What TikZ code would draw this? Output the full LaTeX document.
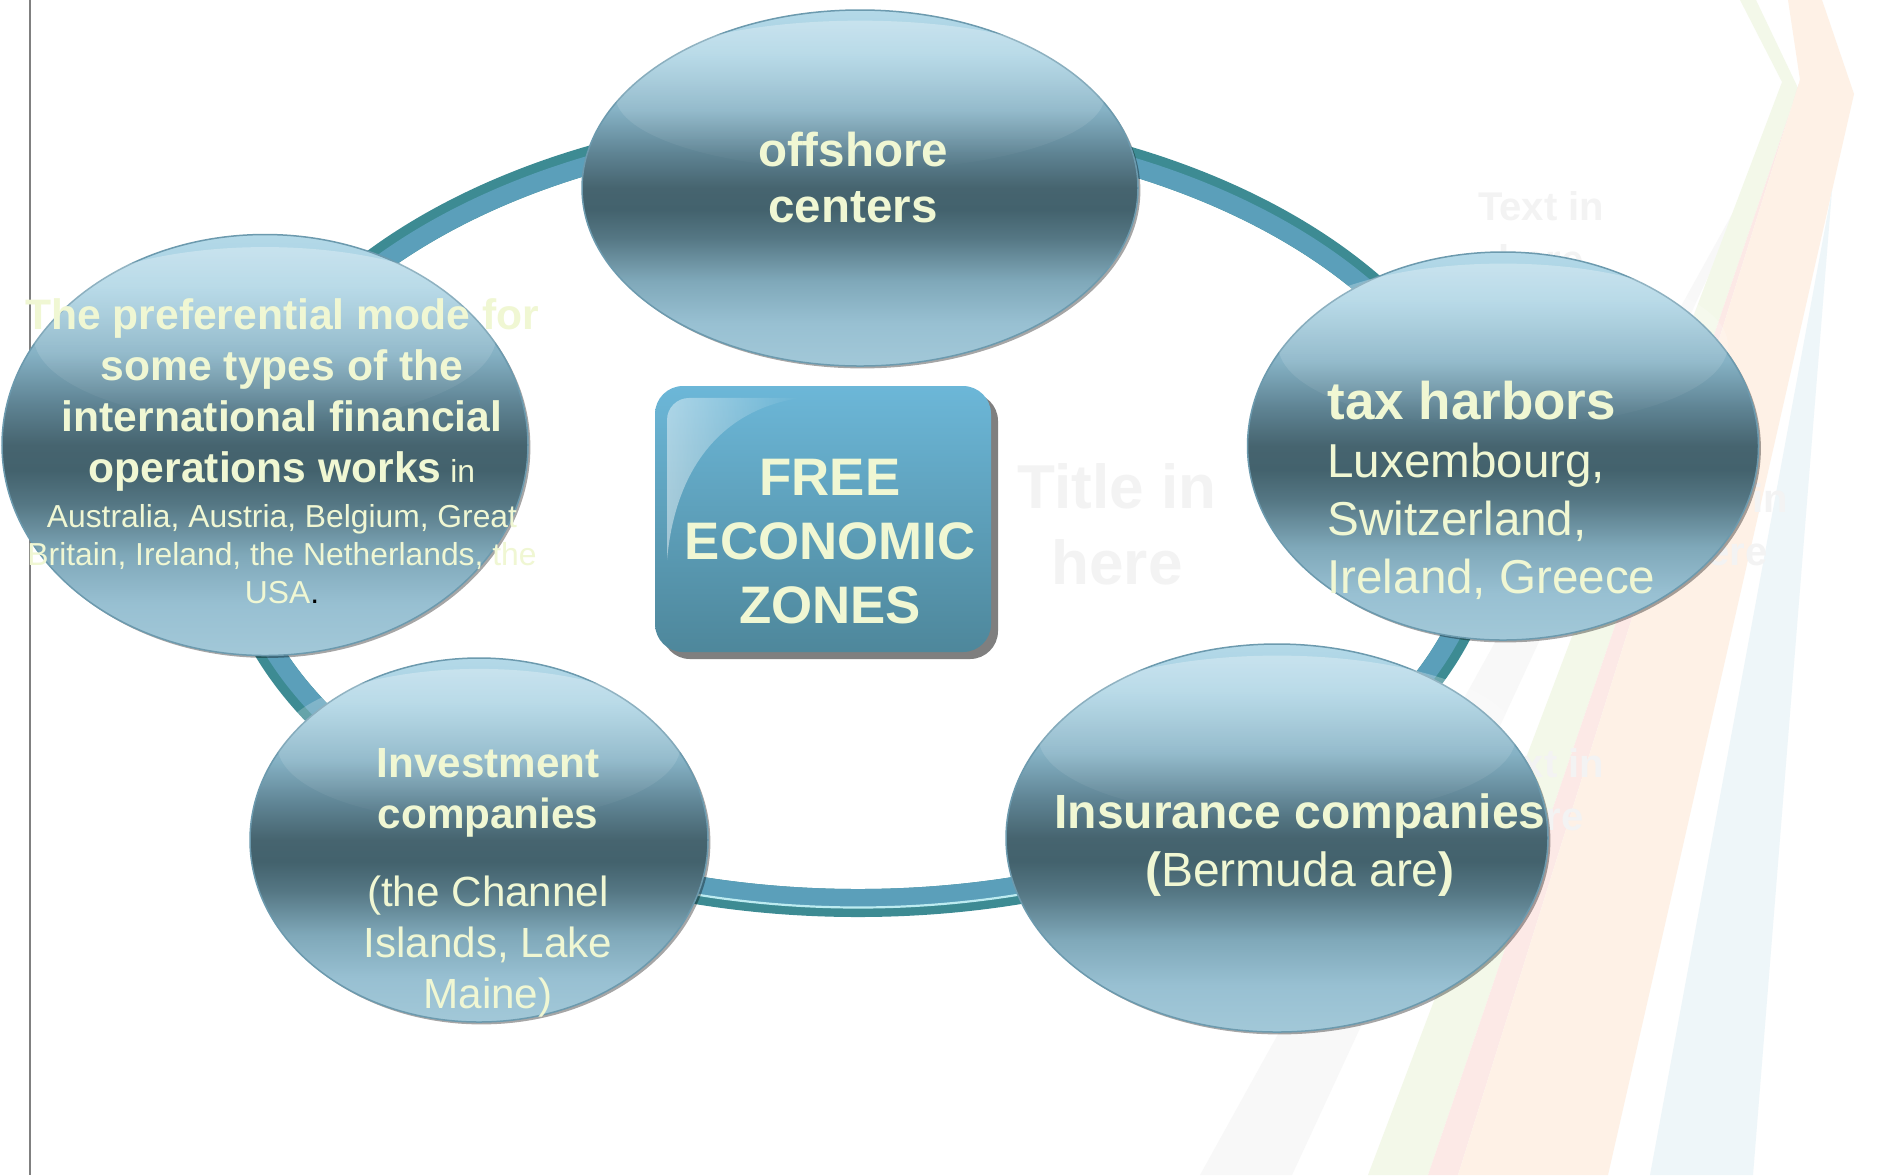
\documentclass[tikz,border=0pt]{standalone}
\usepackage{fontspec}
\setmainfont{Liberation Sans}
\usetikzlibrary{shapes.geometric,fadings,shadows}

% text and background colours
\definecolor{cream}{HTML}{F0F7D3}
\definecolor{ghostgray}{HTML}{F3F3F3}
\definecolor{stripegray}{HTML}{F8F8F8}
\definecolor{stripegreen}{HTML}{F3F8E9}
\definecolor{stripepink}{HTML}{FCE9E6}
\definecolor{stripepeach}{HTML}{FEF1E6}
\definecolor{stripeblue}{HTML}{EEF6F9}
\definecolor{rulegray}{HTML}{808080}
% ring colours
\definecolor{ringdark}{HTML}{3D8B93}
\definecolor{ringlight}{HTML}{5B9FBA}
\definecolor{ringshine}{HTML}{BDEBF0}
% glass orb colours, bottom to top
\definecolor{orb0}{HTML}{A2C8D8}
\definecolor{orb1}{HTML}{98C0D2}
\definecolor{orb2}{HTML}{7FA8B9}
\definecolor{orb3}{HTML}{557784}
\definecolor{orb4}{HTML}{43626D}
\definecolor{orb5}{HTML}{46646F}
\definecolor{orb6}{HTML}{5F8494}
\definecolor{orb7}{HTML}{86B2C5}
\definecolor{orb8}{HTML}{A5D0E2}
\definecolor{orb9}{HTML}{B4D9E8}
\definecolor{orbedge}{HTML}{6C9AAE}
% centre box colours
\definecolor{boxtop}{HTML}{6CB7D8}
\definecolor{boxbot}{HTML}{4E879B}
\definecolor{boxshadow}{HTML}{7F7F7F}

\pgfdeclareverticalshading{orbshade}{100bp}{%
  color(0bp)=(orb0); color(25bp)=(orb0); color(31bp)=(orb1);
  color(37bp)=(orb2); color(43bp)=(orb3); color(47bp)=(orb4);
  color(50bp)=(orb5); color(55bp)=(orb6); color(61bp)=(orb7);
  color(69bp)=(orb8); color(75bp)=(orb9); color(100bp)=(orb9)}

\tikzfading[name=topglow, top color=transparent!70, bottom color=transparent!100]
\tikzfading[name=boxglow, left color=transparent!55, right color=transparent!100]

\tikzset{
  orb/.style={ellipse, shading=orbshade, draw=orbedge, line width=0.75pt,
    inner sep=0pt,
    drop shadow={shadow xshift=1.2pt, shadow yshift=-1.2pt, opacity=0.35, fill=black}},
  lbl/.style={text=cream, inner sep=0pt, align=center},
  ghost/.style={text=ghostgray, inner sep=0pt, align=center,
    font=\fontsize{20}{26.5}\selectfont\bfseries},
}

% one glass orb: name, centre x, centre y, width, height (picture units)
\newcommand{\glassorb}[5]{%
  \node[orb, minimum width=#4*0.5pt, minimum height=#5*0.5pt] (#1) at (#2,#3) {};
  \fill[white, path fading=topglow] (#2,#3-0.26*#5) ellipse [x radius=0.44*#4, y radius=0.21*#5];
}

\begin{document}
\begin{tikzpicture}[x=0.5pt,y=-0.5pt]
\useasboundingbox (0,0) rectangle (1882,1175);
\fill[white] (0,0) rectangle (1882,1175);

% pale diagonal bands on the right
\fill[stripegray] (1200,1175) -- (1292,1175) -- (1762,160) -- cycle;
\fill[stripegreen] (1740,0) -- (1782,82) -- (1368,1175) -- (1428,1175) -- (1798,88) -- (1756,0) -- cycle;
\fill[stripepink] (1428,1175) -- (1458,1175) -- (1800,80) -- (1798,88) -- cycle;
\fill[stripepeach] (1788,0) -- (1800,80) -- (1458,1175) -- (1608,1175) -- (1854,94) -- (1822,0) -- cycle;
\fill[stripeblue] (1832,190) -- (1753,1175) -- (1650,1175) -- cycle;

% placeholder texts of the slide layout
\node[ghost, font=\fontsize{31}{38}\selectfont\bfseries] (gTitle) at (1117,524) {Title in\\here};
\node[ghost] (gText1) at (1541,233) {Text in\\here};
\node[ghost] (gText2) at (1725,525) {Text in\\here};
\node[ghost] (gText3) at (1541,790) {Text in\\here};

% left margin rule
\coordinate (ruleTop) at (30,0);
\coordinate (ruleBot) at (30,1175);
\draw[rulegray, line width=1pt] (ruleTop) -- (ruleBot);

% ring joining the five zones
\draw[ringdark, line width=14pt] (858,513) ellipse [x radius=630, y radius=390];
\draw[ringlight, line width=9.25pt] (858,513) ellipse [x radius=625.25, y radius=385.25];
\draw[ringshine, line width=1.1pt] (858,513) ++(55:634.5 and 394.5)
  arc[start angle=55, end angle=125, x radius=634.5, y radius=394.5];

% glass orbs
\glassorb{off}{860}{188}{556}{356}
\glassorb{pref}{265}{445}{526}{421}
\glassorb{tax}{1503}{446}{511}{388}
\glassorb{inv}{479}{840}{458}{364}
\glassorb{ins}{1277}{838}{542}{388}

% centre box
\node[rectangle, rounded corners=14pt, minimum width=168pt, minimum height=133pt,
  top color=boxtop, bottom color=boxbot, inner sep=0pt,
  drop shadow={shadow xshift=3.5pt, shadow yshift=-3.5pt, opacity=1, fill=boxshadow}]
  (zone) at (823,519) {};
\fill[white, path fading=boxglow]
  (667,560) -- (667,420) arc[start angle=180, end angle=270, radius=22]
  -- (800,398) .. controls (720,410) and (675,470) .. (667,560) -- cycle;

% labels
\node[lbl, font=\fontsize{23.75}{28}\selectfont\bfseries] (offT) at (853,178)
  {offshore\\centers};
\node[lbl, font=\fontsize{26.4}{32}\selectfont\bfseries] (zoneT) at (830,542)
  {FREE\\ECONOMIC\\ZONES};
\node[lbl, align=left, anchor=west, font=\fontsize{23.8}{29}\selectfont] (taxT) at (1327,490)
  {{\fontsize{26.5}{29}\selectfont\bfseries tax harbors}\\Luxembourg,\\Switzerland,\\Ireland, Greece};
\node[lbl, font=\fontsize{24}{29}\selectfont] (insT) at (1300,845)
  {{\bfseries Insurance companies}\\{\bfseries(}Bermuda are{\bfseries)}};
\node[lbl, font=\fontsize{21.1}{25.5}\selectfont] (invT) at (488,883)
  {{\bfseries Investment}\\{\bfseries companies}\\[13.5pt](the Channel\\Islands, Lake\\Maine)};
\node[lbl, font=\fontsize{15.9}{25.5}\selectfont] (prefT) at (282,451)
  {{\fontsize{21.3}{25.5}\selectfont\bfseries The preferential mode for}\\
   {\fontsize{21.3}{25.5}\selectfont\bfseries some types of the}\\
   {\fontsize{21.3}{25.5}\selectfont\bfseries international financial}\\
   {\fontsize{21.3}{25.5}\selectfont\bfseries operations works} in\\[-3pt]
   Australia, Austria, Belgium, Great\\[-6.5pt]
   Britain, Ireland, the Netherlands, the\\[-6.5pt]
   USA{\color{black}.}};
\end{tikzpicture}
\end{document}
